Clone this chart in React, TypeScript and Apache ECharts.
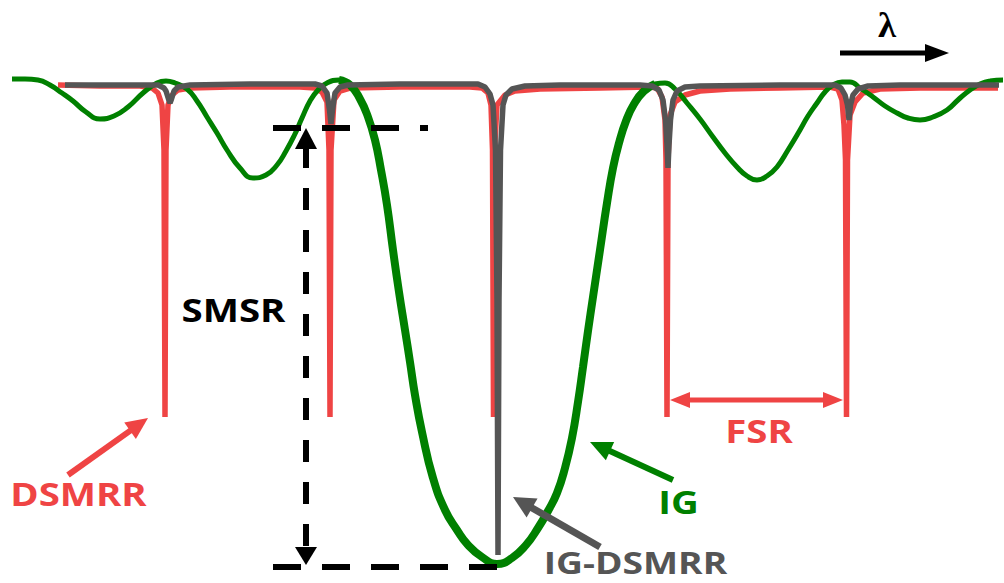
import React, { useEffect, useRef } from "react";
import * as echarts from "echarts";

// ---- Data (schematic transmission spectra; x = wavelength units, y = depth units, downward) ----
const igCurve: [number, number][] = [
  [12, 79], [25, 79], [38, 80], [50, 85], [62, 93], [73, 101], [86, 112], [100, 119], [114, 116], [128, 107],
  [143, 93], [157, 83], [166, 81], [175, 83], [187, 89], [197, 101], [207, 117], [217, 133], [227, 150], [240, 168],
  [253, 178], [266, 175], [277, 165], [286, 151], [294, 136], [302, 118], [310, 101], [318, 90], [327, 83], [339, 80],
  [350, 85], [360, 99], [368, 117], [375, 140], [381, 170], [387, 205], [393, 250], [399, 292], [405, 330], [410, 362],
  [415, 395], [422, 432], [433, 478], [445, 510], [457, 530], [468, 545], [482, 557], [497, 564], [512, 558], [526, 545],
  [538, 528], [548, 511], [557, 493], [565, 468], [572, 438], [578, 402], [583, 367], [588, 331], [593, 297], [600, 250],
  [607, 203], [613, 168], [619, 143], [626, 121], [634, 104], [644, 91], [655, 84], [665, 83], [675, 89], [687, 103],
  [700, 119], [713, 137], [725, 153], [737, 167], [747, 176], [757, 180], [767, 176], [777, 167], [788, 150], [800, 130],
  [808, 116], [817, 103], [825, 92], [833, 85], [842, 82], [850, 82], [860, 88], [873, 97], [885, 106], [897, 113],
  [908, 118], [920, 120], [933, 117], [947, 110], [958, 100], [970, 90], [980, 84], [990, 81], [1003, 80],
];
const igMainLobeRange: [number, number] = [339, 660];

const dsmrrCurve: [number, number][] = [
  [58, 85], [100, 86], [140, 86], [152, 88], [158, 93], [162, 105], [164, 150], [165, 417], [166, 150], [168, 105],
  [172, 95], [178, 90], [190, 88], [230, 87], [300, 87], [315, 88], [322, 92], [327, 102], [329, 150], [330, 417],
  [331, 150], [334, 100], [340, 91], [350, 88], [400, 87], [470, 87], [482, 88], [488, 93], [491, 105], [492.5, 150],
  [493.5, 417], [494.5, 150], [497, 105], [505, 95], [515, 91], [540, 89], [600, 88], [650, 87], [657, 88], [662, 97],
  [665, 120], [666, 160], [667, 417], [668, 160], [670, 115], [675, 102], [685, 95], [700, 91], [730, 89], [780, 88],
  [830, 87], [838, 89], [842, 100], [844, 125], [845.5, 160], [846.5, 417], [847.5, 160], [850, 115], [855, 102], [863, 93],
  [880, 89], [920, 88], [960, 88], [998, 88],
];

const igDsmrrCurve: [number, number][] = [
  [65, 85], [120, 85], [158, 85], [164, 88], [166, 91], [168.5, 99], [170, 103], [171.5, 99], [174, 91], [178, 87],
  [190, 85], [250, 84], [315, 84], [322, 86], [327, 93], [329.5, 110], [331, 124], [332.5, 110], [335, 93], [340, 87],
  [348, 85], [400, 84], [478, 84], [485, 87], [490, 94], [493, 105], [495.5, 150], [497, 300], [498, 555], [499, 300],
  [500.5, 150], [503, 105], [506, 95], [512, 89], [525, 86], [560, 85], [640, 85], [652, 86], [659, 90], [663, 100],
  [665.5, 120], [667, 145], [668, 168], [669, 145], [670.5, 120], [673, 100], [677, 91], [685, 87], [700, 86], [780, 85],
  [835, 85], [841, 88], [845, 95], [847.5, 105], [849, 120], [850.5, 105], [853, 95], [858, 89], [868, 86], [900, 85],
  [960, 85], [999, 85],
];

const labels = {
  dsmrr: "DSMRR",
  smsr: "SMSR",
  fsr: "FSR",
  ig: "IG",
  igDsmrr: "IG-DSMRR",
  lambda: "λ",
};

const RED = "#EF4444";
const GRAY = "#555555";
const GREEN = "#008000";
const BLACK = "#000000";

function arrowHead(tipX: number, tipY: number, fromX: number, fromY: number, len: number, half: number, color: string) {
  const dx = tipX - fromX;
  const dy = tipY - fromY;
  const d = Math.hypot(dx, dy);
  const ux = dx / d, uy = dy / d;
  const bx = tipX - ux * len, by = tipY - uy * len;
  const nx = -uy, ny = ux;
  return {
    type: "polygon",
    z: 100,
    shape: { points: [[tipX, tipY], [bx + nx * half, by + ny * half], [bx - nx * half, by - ny * half]] },
    style: { fill: color },
  };
}

function arrow(x1: number, y1: number, x2: number, y2: number, color: string, w: number, len: number, half: number) {
  const dx = x2 - x1, dy = y2 - y1;
  const d = Math.hypot(dx, dy);
  const ux = dx / d, uy = dy / d;
  return [
    {
      type: "line",
      z: 100,
      shape: { x1, y1, x2: x2 - ux * (len - 2), y2: y2 - uy * (len - 2) },
      style: { stroke: color, lineWidth: w },
    },
    arrowHead(x2, y2, x1, y1, len, half, color),
  ];
}

function label(text: string, x: number, y: number, color: string, size = 32, family = '"Open Sans"', scaleX = 1.2) {
  return {
    type: "text",
    z: 100,
    x,
    y,
    scaleX,
    style: {
      text,
      x: 0,
      y: 0,
      fill: color,
      fontSize: size,
      fontWeight: "bold",
      fontFamily: family,
      align: "center",
      verticalAlign: "middle",
    },
  };
}

export default function App() {
  const ref = useRef<HTMLDivElement>(null);
  useEffect(() => {
    if (!ref.current) return;
    const chart = echarts.init(ref.current, undefined, { renderer: "svg" });
    const mainLobe = igCurve.filter((p) => p[0] >= igMainLobeRange[0] && p[0] <= igMainLobeRange[1]);

    const graphic: any[] = [
      // SMSR dashed guide lines
      { type: "line", z: 100, shape: { x1: 273, y1: 128, x2: 428, y2: 128 }, style: { stroke: BLACK, lineWidth: 6, lineDash: [28, 21] } },
      { type: "line", z: 100, shape: { x1: 273, y1: 567, x2: 498, y2: 567 }, style: { stroke: BLACK, lineWidth: 6, lineDash: [28, 21] } },
      { type: "line", z: 100, shape: { x1: 306, y1: 146, x2: 306, y2: 550 }, style: { stroke: BLACK, lineWidth: 6, lineDash: [22, 20] } },
      arrowHead(306, 128, 306, 200, 21, 11, BLACK),
      arrowHead(306, 565, 306, 500, 18, 11, BLACK),
      // λ arrow
      ...arrow(840, 53, 949, 53, BLACK, 5, 24, 9),
      // FSR double arrow
      { type: "line", z: 100, shape: { x1: 685, y1: 400, x2: 828, y2: 400 }, style: { stroke: RED, lineWidth: 5 } },
      arrowHead(670, 400, 760, 400, 20, 8, RED),
      arrowHead(843, 400, 760, 400, 20, 8, RED),
      // pointer arrows
      ...arrow(68, 475, 148, 418, RED, 6, 22, 10),
      ...arrow(673, 480, 590, 442, GREEN, 6, 22, 10),
      ...arrow(600, 547, 513, 497, GRAY, 7, 22, 11),
      // labels
      label(labels.dsmrr, 78.5, 493.5, RED),
      label(labels.smsr, 233.5, 309, BLACK),
      label(labels.fsr, 759, 430, RED),
      label(labels.ig, 678.5, 501.5, GREEN),
      label(labels.igDsmrr, 635.5, 562, GRAY, 31),
      label(labels.lambda, 887, 25, BLACK, 35, '"Liberation Serif"', 1.05),
    ];

    chart.setOption({
      animation: false,
      backgroundColor: "#ffffff",
      grid: { left: 0, right: 0, top: 0, bottom: 0, containLabel: false },
      xAxis: { type: "value", min: 0, max: 1004, show: false },
      yAxis: { type: "value", min: 0, max: 583, inverse: true, show: false },
      series: [
        {
          name: "DSMRR",
          type: "line",
          data: dsmrrCurve,
          showSymbol: false,
          symbol: "none",
          smooth: false,
          z: 2,
          lineStyle: { color: RED, width: 5.5 },
        },
        {
          name: "IG",
          type: "line",
          data: igCurve,
          showSymbol: false,
          symbol: "none",
          smooth: 0.5,
          z: 3,
          lineStyle: { color: GREEN, width: 5 },
        },
        {
          name: "IG main lobe",
          type: "line",
          data: mainLobe,
          showSymbol: false,
          symbol: "none",
          smooth: 0.5,
          z: 3,
          lineStyle: { color: GREEN, width: 8 },
        },
        {
          name: "IG-DSMRR",
          type: "line",
          data: igDsmrrCurve,
          showSymbol: false,
          symbol: "none",
          smooth: false,
          z: 4,
          lineStyle: { color: GRAY, width: 5.5 },
        },
      ],
      graphic,
    });
    return () => chart.dispose();
  }, []);

  return (
    <div
      ref={ref}
      style={{ position: "fixed", left: 0, top: 0, width: 1004, height: 583, background: "#fff" }}
    />
  );
}
